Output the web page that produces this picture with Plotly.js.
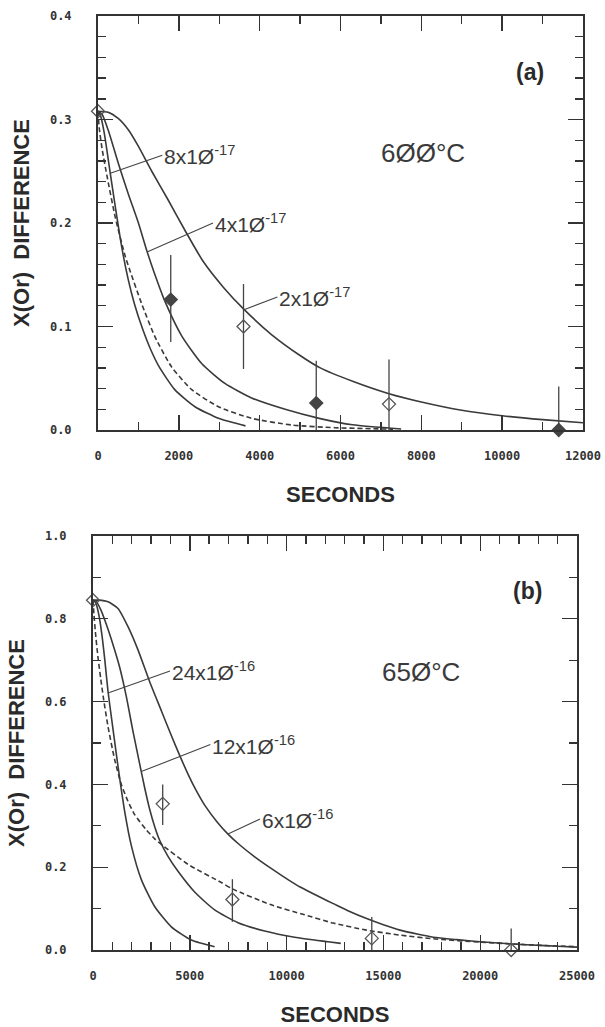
<!DOCTYPE html>
<html>
<head>
<meta charset="utf-8">
<script src="https://cdn.plot.ly/plotly-3.0.1.min.js"></script>
<style>html,body{margin:0;padding:0;background:#fff;}#chart{width:605px;height:1027px;}</style>
</head>
<body>
<div id="chart"></div>
<script>
// ---------- Panel (a): 600 °C ----------
const a8_t = [0, 60, 150, 300, 450, 600, 750, 900, 1100, 1300, 1500, 1900, 2400, 3000, 3650];
const a8_v = [0.308, 0.304, 0.288, 0.249, 0.210, 0.174, 0.145, 0.122, 0.098, 0.078, 0.062, 0.039, 0.0225, 0.011, 0.004];

const a4_t = [0, 100, 250, 500, 750, 1000, 1210, 1400, 1660, 2070, 2570, 3140, 3800, 4630, 5500, 6300, 7500];
const a4_v = [0.308, 0.305, 0.290, 0.258, 0.228, 0.200, 0.173, 0.151, 0.124, 0.091, 0.064, 0.045, 0.031, 0.020, 0.011, 0.005, 0.001];

const a2_t = [0, 250, 500, 750, 1000, 1330, 1740, 2150, 2600, 3100, 3600, 4300, 5000, 5500, 6300, 7200, 8000, 9000, 10000, 11000, 12000];
const a2_v = [0.308, 0.307, 0.301, 0.290, 0.274, 0.250, 0.222, 0.193, 0.163, 0.138, 0.117, 0.092, 0.072, 0.060, 0.047, 0.035, 0.027, 0.019, 0.0138, 0.010, 0.007];

const aDash_t = [0, 30, 100, 220, 430, 680, 800, 1080, 1410, 1820, 2320, 2980, 3800, 4800, 5870, 7300];
const aDash_v = [0.308, 0.292, 0.272, 0.246, 0.205, 0.167, 0.153, 0.122, 0.090, 0.061, 0.039, 0.0225, 0.0113, 0.0048, 0.0022, 0.0008];

const aPts_t = [0, 1800, 3600, 5400, 7200, 11400];
const aPts_v = [0.308, 0.126, 0.100, 0.026, 0.025, 0.0];
const aErrUp = [0, 0.043, 0.041, 0.041, 0.043, 0.042];
const aErrDn = [0, 0.041, 0.041, 0.026, 0.025, 0.0];
const aPtsFilled = [false, true, false, true, false, true];

const aLabels = ['8x1Ø<sup>-17</sup>', '4x1Ø<sup>-17</sup>', '2x1Ø<sup>-17</sup>'];
const aLabel_t = [305, 1213, 3597];
const aLabel_v = [0.248, 0.172, 0.116];

// ---------- Panel (b): 650 °C ----------
const b24_t = [0, 150, 300, 450, 600, 775, 1000, 1200, 1377, 1635, 1980, 2497, 3185, 4046, 5079, 6283];
const b24_v = [0.845, 0.838, 0.810, 0.765, 0.705, 0.625, 0.545, 0.475, 0.415, 0.335, 0.252, 0.170, 0.105, 0.056, 0.024, 0.008];

const b12_t = [0, 150, 400, 700, 950, 1377, 1722, 2066, 2400, 2669, 2927, 3200, 3443, 3874, 4390, 5251, 6283, 7490, 8867, 10417, 12138, 12800];
const b12_v = [0.845, 0.843, 0.822, 0.785, 0.750, 0.683, 0.612, 0.528, 0.452, 0.392, 0.340, 0.296, 0.265, 0.226, 0.190, 0.140, 0.097, 0.066, 0.046, 0.031, 0.020, 0.016];

const b6_t = [0, 300, 775, 1291, 1808, 2324, 2927, 3530, 4046, 4476, 4907, 5300, 5768, 6400, 6973, 7600, 8352, 9200, 10072, 10700, 11793, 12413, 13171, 14135, 15000, 15857, 16800, 17578, 18800, 19990, 21500, 22700, 24000, 25000];
const b6_v = [0.845, 0.845, 0.841, 0.825, 0.781, 0.725, 0.648, 0.578, 0.518, 0.470, 0.425, 0.388, 0.350, 0.310, 0.280, 0.253, 0.225, 0.197, 0.170, 0.152, 0.126, 0.112, 0.095, 0.076, 0.061, 0.048, 0.038, 0.031, 0.025, 0.020, 0.015, 0.012, 0.009, 0.007];

const bDash_t = [0, 50, 120, 250, 400, 550, 775, 1119, 1463, 1800, 2152, 2755, 3200, 3616, 4907, 6628, 7231, 9211, 10933, 12413, 14135, 15857, 17578, 19990, 22743, 25000];
const bDash_v = [0.845, 0.810, 0.770, 0.710, 0.655, 0.605, 0.540, 0.460, 0.400, 0.360, 0.327, 0.290, 0.268, 0.252, 0.207, 0.163, 0.147, 0.109, 0.085, 0.065, 0.048, 0.036, 0.027, 0.019, 0.012, 0.008];

const bPts_t = [0, 3600, 7200, 14400, 21600];
const bPts_v = [0.845, 0.353, 0.122, 0.028, 0.0];
const bErrUp = [0, 0.047, 0.049, 0.052, 0.052];
const bErrDn = [0, 0.051, 0.054, 0.028, 0.0];
const bPtsFilled = [false, false, false, false, false];

const bLabels = ['24x1Ø<sup>-16</sup>', '12x1Ø<sup>-16</sup>', '6x1Ø<sup>-16</sup>'];
const bLabel_t = [775, 2497, 6973];
const bLabel_v = [0.621, 0.431, 0.280];

// ---------- styling ----------
const W = 605, H = 1027;
const INK = '#333333';
const px = x => x / W;
const py = y => 1 - y / H;

function curve(t, v, xa, ya, dashed) {
  return {
    x: t, y: v, xaxis: xa, yaxis: ya, type: 'scatter', mode: 'lines',
    line: {color: '#3a3a3a', width: 1.6, shape: 'spline', smoothing: 0.6, dash: dashed ? '5px,3px' : 'solid'},
    hoverinfo: 'skip'
  };
}
function points(t, v, up, dn, filled, xa, ya) {
  return {
    x: t, y: v, xaxis: xa, yaxis: ya, type: 'scatter', mode: 'markers', cliponaxis: false,
    marker: {symbol: filled.map(f => f ? 'diamond' : 'diamond-open'), size: 10,
             color: filled.map(f => f ? '#444' : '#555'), line: {width: 1.3, color: '#444'}},
    error_y: {type: 'data', symmetric: false, array: up, arrayminus: dn, color: '#444', thickness: 1.3, width: 0},
    hoverinfo: 'skip'
  };
}

const data = [
  curve(a8_t, a8_v, 'x', 'y', false),
  curve(a4_t, a4_v, 'x', 'y', false),
  curve(a2_t, a2_v, 'x', 'y', false),
  curve(aDash_t, aDash_v, 'x', 'y', true),
  points(aPts_t, aPts_v, aErrUp, aErrDn, aPtsFilled, 'x', 'y'),
  curve(b24_t, b24_v, 'x2', 'y2', false),
  curve(b12_t, b12_v, 'x2', 'y2', false),
  curve(b6_t, b6_v, 'x2', 'y2', false),
  curve(bDash_t, bDash_v, 'x2', 'y2', true),
  points(bPts_t, bPts_v, bErrUp, bErrDn, bPtsFilled, 'x2', 'y2')
];

const tickFont = {family: 'DejaVu Sans Mono', size: 12, color: INK, weight: 'bold'};
const titleFont = {family: 'Liberation Sans, Arial, sans-serif', size: 22, color: '#2a2a2a', weight: 'bold'};

function xAxis(domain, anchor, range, dtick, minorDtick) {
  return {
    domain: domain, anchor: anchor, range: range, dtick: dtick, tick0: 0,
    ticks: 'inside', ticklen: 15, tickwidth: 1.4, tickcolor: INK,
    minor: {dtick: minorDtick, tick0: 0, ticks: 'inside', ticklen: 8, tickwidth: 1.4, tickcolor: INK},
    mirror: 'allticks', showline: true, linecolor: INK, linewidth: 2,
    showgrid: false, zeroline: false, tickformat: 'd', tickfont: tickFont, ticklabelstandoff: 14,
    title: {text: 'SECONDS', font: titleFont, standoff: 24}, fixedrange: true
  };
}
function yAxis(domain, anchor, range, dtick, minorDtick) {
  return {
    domain: domain, anchor: anchor, range: range, dtick: dtick, tick0: 0,
    ticks: 'inside', ticklen: 15, tickwidth: 1.4, tickcolor: INK,
    minor: {dtick: minorDtick, tick0: 0, ticks: 'inside', ticklen: 8, tickwidth: 1.4, tickcolor: INK},
    mirror: 'allticks', showline: true, linecolor: INK, linewidth: 2,
    showgrid: false, zeroline: false, tickformat: '.1f', tickfont: tickFont, ticklabelstandoff: 22,
    title: {text: 'X(Or)&nbsp;&nbsp;DIFFERENCE', font: titleFont, standoff: 14}, fixedrange: true
  };
}

const labelFont = {family: 'Liberation Sans, Arial, sans-serif', size: 21, color: '#3a3a3a'};
const annotations = [];
const aOffsets = [[52, -18], [66, -29], [34, -13]];
const bOffsets = [[62, -22], [69, -27], [32, -15]];
aLabels.forEach((txt, i) => annotations.push({
  text: txt, x: aLabel_t[i], y: aLabel_v[i], xref: 'x', yref: 'y',
  ax: aOffsets[i][0], ay: aOffsets[i][1], showarrow: true, arrowhead: 0, arrowwidth: 1.1, arrowcolor: '#444',
  xanchor: 'left', yanchor: 'middle', font: labelFont, standoff: 0
}));
bLabels.forEach((txt, i) => annotations.push({
  text: txt, x: bLabel_t[i], y: bLabel_v[i], xref: 'x2', yref: 'y2',
  ax: bOffsets[i][0], ay: bOffsets[i][1], showarrow: true, arrowhead: 0, arrowwidth: 1.1, arrowcolor: '#444',
  xanchor: 'left', yanchor: 'middle', font: labelFont, standoff: 0
}));
const tempFont = {family: 'Liberation Sans, Arial, sans-serif', size: 26, color: '#3a3a3a'};
const tagFont = {family: 'Liberation Sans, Arial, sans-serif', size: 23, color: '#2a2a2a', weight: 'bold'};
annotations.push({text: '6ØØ°C', xref: 'paper', yref: 'paper', x: px(423), y: py(153), showarrow: false, font: tempFont, xanchor: 'center', yanchor: 'middle'});
annotations.push({text: '65Ø°C', xref: 'paper', yref: 'paper', x: px(421), y: py(672), showarrow: false, font: tempFont, xanchor: 'center', yanchor: 'middle'});
annotations.push({text: '(a)', xref: 'paper', yref: 'paper', x: px(530), y: py(72), showarrow: false, font: tagFont, xanchor: 'center', yanchor: 'middle'});
annotations.push({text: '(b)', xref: 'paper', yref: 'paper', x: px(527), y: py(591), showarrow: false, font: tagFont, xanchor: 'center', yanchor: 'middle'});

const layout = {
  width: W, height: H, margin: {l: 0, r: 0, t: 0, b: 0},
  paper_bgcolor: '#ffffff', plot_bgcolor: '#ffffff', showlegend: false,
  xaxis: xAxis([px(98), px(583)], 'y', [0, 12000], 2000, 1000),
  yaxis: yAxis([py(430), py(16)], 'x', [0, 0.4], 0.1, 0.02),
  xaxis2: xAxis([px(93), px(577)], 'y2', [0, 25000], 5000, 1000),
  yaxis2: yAxis([py(950), py(536)], 'x2', [0, 1.0], 0.2, 0.1),
  annotations: annotations
};

Plotly.newPlot('chart', data, layout, {staticPlot: true, displayModeBar: false});
</script>
</body>
</html>
